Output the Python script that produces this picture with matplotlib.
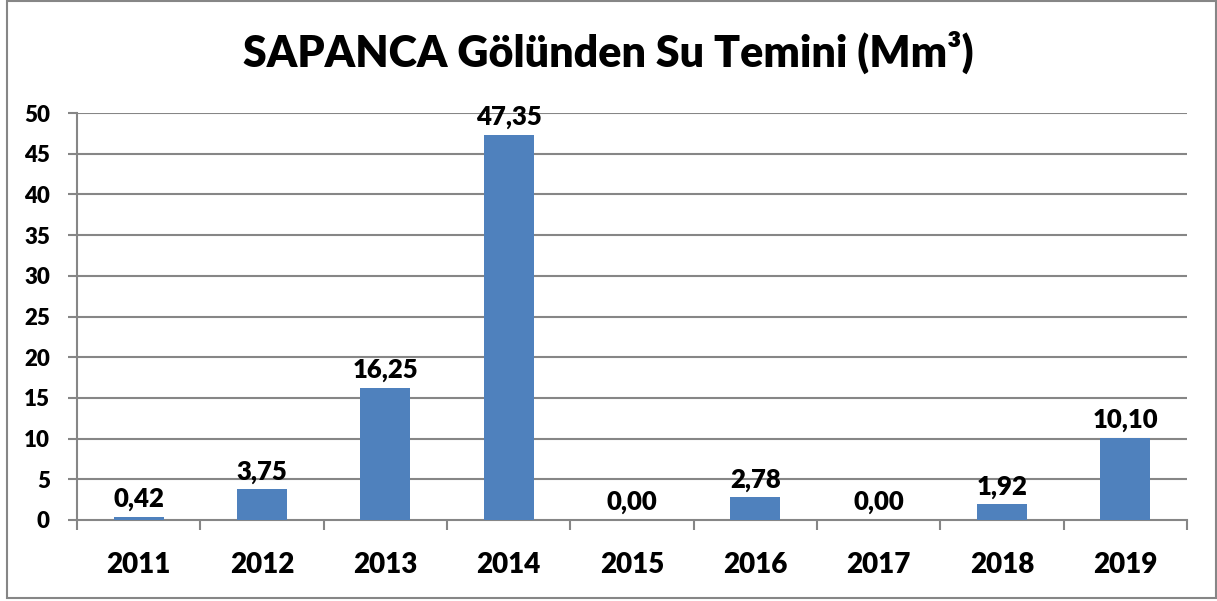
import matplotlib
matplotlib.use("Agg")
import matplotlib.pyplot as plt
from matplotlib.patches import Rectangle
from matplotlib.ticker import FixedLocator

years = ["2011", "2012", "2013", "2014", "2015", "2016", "2017", "2018", "2019"]
values = [0.42, 3.75, 16.25, 47.35, 0.00, 2.78, 0.00, 1.92, 10.10]
yticks = [0, 5, 10, 15, 20, 25, 30, 35, 40, 45, 50]
title = "SAPANCA Gölünden Su Temini (Mm³)"

plt.rcParams['font.family'] = ['Lato', 'DejaVu Sans']
WT = 'heavy'

W, H = 1217, 601
fig = plt.figure(figsize=(W / 100, H / 100), dpi=100)
ax = fig.add_axes([77 / W, 1 - 520 / H, (1187 - 77) / W, (520 - 113) / H])

grid_c = "#868686"
bar_c = "#4F81BD"

x = list(range(len(years)))
ax.bar(x, values, width=0.405, color=bar_c, zorder=3)
ax.set_xlim(-0.5, len(years) - 0.5)
ax.set_ylim(0, 50)
ax.set_yticks(yticks)
ax.set_xticks(x)
ax.set_xticklabels(years)
ax.xaxis.set_minor_locator(FixedLocator([i - 0.5 for i in range(len(years) + 1)]))

for y in yticks[1:]:
    ax.axhline(y, color=grid_c, lw=1.5, zorder=1)

for s in ["top", "right"]:
    ax.spines[s].set_visible(False)
for s in ["left", "bottom"]:
    ax.spines[s].set_color(grid_c)
    ax.spines[s].set_linewidth(1.5)

ax.tick_params(axis='y', which='major', length=6.5, width=1.5, color=grid_c,
               pad=13, labelsize=16)
ax.tick_params(axis='x', which='major', length=0, pad=23, labelsize=20)
ax.tick_params(axis='x', which='minor', length=7.5, width=1.5, color=grid_c)
for lab in ax.get_xticklabels() + ax.get_yticklabels():
    lab.set_fontweight(WT)

for xi, v in zip(x, values):
    ax.annotate(f"{v:.2f}".replace(".", ","), (xi, v), xytext=(0, 4),
                textcoords="offset points", ha="center", va="bottom",
                fontsize=18.5, fontweight=WT, zorder=4)

fig.text(0.5, 1 - 52 / H, title, ha="center", va="center",
         fontsize=31, fontweight=WT)

fig.patches.append(Rectangle((7 / W, 1 - 598 / H), (1216 - 7) / W, (598 - 1) / H,
                             transform=fig.transFigure, fill=False,
                             edgecolor=grid_c, lw=1.5))

fig.savefig("out.png", dpi=100)
